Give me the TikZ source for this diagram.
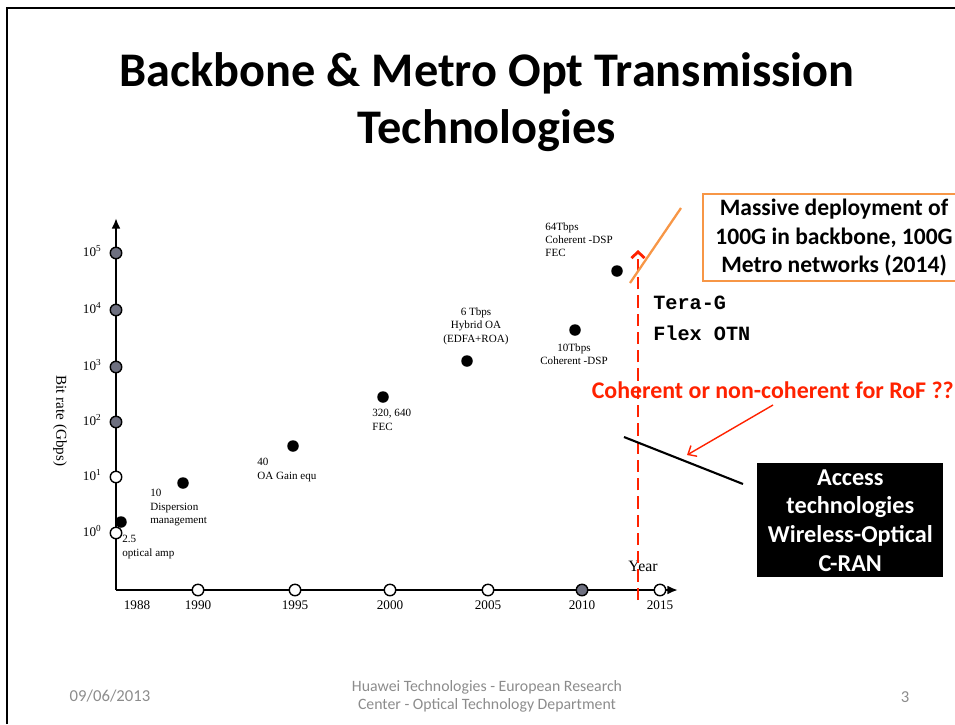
\documentclass[tikz,border=0pt]{standalone}
\usepackage{fontspec}
\setmainfont{Liberation Serif}
\newfontfamily\slidefont{Carlito}
\newfontfamily\termfont{Liberation Mono}
\usetikzlibrary{math}
\usetikzlibrary{arrows.meta}

\definecolor{slideorange}{HTML}{F79646}
\definecolor{sliderred}{HTML}{FF2200}
\definecolor{footgray}{HTML}{8C8C8C}
\definecolor{tickgray}{HTML}{6E7080}

\tikzset{
    tickmark/.style={circle, draw=black, fill=white, line width=0.8pt, inner sep=0pt, minimum size=0.23cm},
    tickfull/.style={tickmark, fill=tickgray},
    datadot/.style={circle, fill=black, inner sep=0pt, minimum size=0.23cm},
    chartlabel/.style={inner sep=0pt, align=left, font=\fontsize{6.3}{7.6}\selectfont},
    ticklabel/.style={inner sep=0pt, font=\fontsize{7.5}{9}\selectfont},
    slidetext/.style={inner sep=0pt, align=center, font=\slidefont\bfseries\fontsize{13.8}{16.3}\selectfont},
}

\begin{document}
\begin{tikzpicture}[x=0.02cm, y=-0.02cm]

% Position settings
\tikzmath{
    \XAxis = 116;
    \YAxis = 590;
    \XEnd = 678;
    \YEnd = 218;
    \XNow = 638;
}

\useasboundingbox (0,0) rectangle (955,724);

% Draws slide border
\draw [black, line width=1.3pt] (7,724) -- (7,8) -- (955,8);

% Draws title
\node [inner sep=0pt, align=center, font=\slidefont\bfseries\fontsize{27.5}{32.4}\selectfont]
    (title) at (487,102) {Backbone \& Metro Opt Transmission\\Technologies};

% Draws axes
\draw [black, line width=1.5pt, -{Latex[length=6pt,width=5pt]}] (\XAxis,\YAxis) -- (\XAxis,\YEnd);
\draw [black, line width=1.5pt, -{Latex[length=6pt,width=5pt]}] (\XAxis,\YAxis) -- (\XEnd,\YAxis);

% Draws bit rate ticks
\foreach \pos/\ex/\sty in {533/0/tickmark, 477/1/tickmark, 422/2/tickfull,
                           367/3/tickfull, 310/4/tickfull, 253/5/tickfull} {
    \node [\sty] (y\ex) at (\XAxis,\pos) {};
    \node [ticklabel, anchor=east] at (102,\pos-2) {10\textsuperscript{\ex}};
}

% Draws year ticks
\foreach \pos/\yr/\sty in {198/1990/tickmark, 295/1995/tickmark, 390/2000/tickmark,
                           488/2005/tickmark, 582/2010/tickfull, 660/2015/tickmark} {
    \node [\sty] (x\yr) at (\pos,\YAxis) {};
    \node [ticklabel, anchor=north] at (\pos,600) {\yr};
}
\node [ticklabel, anchor=north] (x1988) at (137,600) {1988};

\node [inner sep=0pt, font=\fontsize{9}{10}\selectfont] (yeartitle) at (643,566) {Year};
\node [inner sep=0pt, rotate=-90, font=\fontsize{8.6}{10}\selectfont] (ratetitle) at (60,421) {Bit rate (Gbps)};

% Draws data points
\node [datadot] (p25) at (121,522) {};
\node [datadot] (p10) at (183,483) {};
\node [datadot] (p40) at (293,446) {};
\node [datadot] (p320) at (383,397) {};
\node [datadot] (p6T) at (467,361) {};
\node [datadot] (p10T) at (575,330) {};
\node [datadot] (p64T) at (617,271) {};

\node [chartlabel, anchor=north west] (l25) at (122,535) {2.5\\optical amp};
\node [chartlabel, anchor=north west] (l10) at (150,489) {10\\Dispersion\\management};
\node [chartlabel, anchor=north west] (l40) at (257,458) {40\\OA Gain equ};
\node [chartlabel, anchor=north west] (l320) at (372,409) {320, 640\\FEC};
\node [chartlabel, align=center, anchor=south] (l6T) at (476,345) {6 Tbps\\Hybrid OA\\(EDFA+ROA)};
\node [chartlabel, align=center, anchor=north] (l10T) at (574,343) {10Tbps\\Coherent -DSP};
\node [chartlabel, anchor=north west] (l64T) at (545,222) {64Tbps\\Coherent -DSP\\FEC};

% Draws current year marker
\coordinate (nowbase) at (\XNow,600);
\coordinate (nowtop) at (\XNow,250);
\draw [sliderred, line width=1.6pt, dash pattern=on 7pt off 3.4pt,
    -{Straight Barb[length=3.5pt,width=7.5pt]}] (nowbase) -- (nowtop);

% Draws backbone note
\node [slidetext, font=\slidefont\bfseries\fontsize{13.4}{16.3}\selectfont,
    draw=slideorange, line width=1.2pt, fill=white, minimum width=5.24cm,
    minimum height=1.74cm, anchor=north west] (massive) at (702,193)
    {Massive deployment of\\100G in backbone, 100G\\Metro networks (2014)};
\coordinate (orangelow) at (630,283);
\coordinate (orangehigh) at (681,208);
\draw [slideorange, line width=1.3pt] (orangelow) -- (orangehigh);

\node [inner sep=0pt, align=left, anchor=west, font=\termfont\bfseries\fontsize{11.5}{17.6}\selectfont]
    (terag) at (653,318) {Tera-G\\Flex OTN};

% Draws access note
\node [inner sep=0pt, anchor=east, text=sliderred, font=\slidefont\bfseries\fontsize{13.6}{15}\selectfont]
    (roftext) at (954,390) {Coherent or non-coherent for RoF ??};
\coordinate (rofstart) at (773,405);
\coordinate (rofend) at (687,455);
\draw [sliderred, line width=0.8pt, -{Straight Barb[length=4pt,width=7pt]}] (rofstart) -- (rofend);

\coordinate (accessleft) at (624,437);
\coordinate (accessright) at (743,484);
\draw [black, line width=1.2pt] (accessleft) -- (accessright);

\node [slidetext, fill=black, text=white, text width=3.6cm, minimum width=3.72cm,
    minimum height=2.28cm, anchor=north west] (access) at (757,463)
    {Access\\technologies\\Wireless-Optical\\C-RAN};

% Draws footer
\node [inner sep=0pt, text=footgray, font=\slidefont\fontsize{9.5}{11}\selectfont] (date) at (110,696) {09/06/2013};
\node [inner sep=0pt, align=center, text=footgray, font=\slidefont\fontsize{9}{10.3}\selectfont]
    (company) at (487,696) {Huawei Technologies - European Research\\Center - Optical Technology Department};
\node [inner sep=0pt, text=footgray, font=\slidefont\fontsize{9.5}{11}\selectfont] (page) at (905,697) {3};

\end{tikzpicture}
\end{document}
